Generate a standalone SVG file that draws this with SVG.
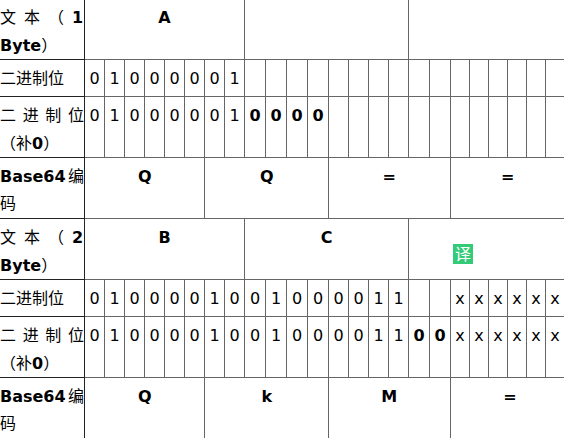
<svg xmlns="http://www.w3.org/2000/svg" width="564" height="438" viewBox="0 0 564 438">
<style>
.g{stroke:#666;stroke-width:1;fill:none;shape-rendering:crispEdges}
.d{stroke:#222;stroke-width:1;fill:none;shape-rendering:crispEdges}
text{font-family:"DejaVu Sans","Noto Sans CJK SC",sans-serif;font-size:16px;fill:#000}
.b{font-weight:700}
.c{text-anchor:middle}
</style>
<rect width="564" height="438" fill="#fff"/>
<g id="grid">
<path class="g" d="M85 59.5H564M85 96.5H564M85 157.5H564M85 218.5H564M85 279.5H564M85 316.5H564M85 377.5H564"/>
<path class="g" d="M244.5 0V59M408.5 0V59M204.5 157V218M328.5 157V218M450.5 157V218M244.5 218V279M408.5 218V279M204.5 377V438M328.5 377V438M450.5 377V438"/>
<path class="g" d="M104.5 59V157M124.5 59V157M144.5 59V157M164.5 59V157M184.5 59V157M204.5 59V157M224.5 59V157M244.5 59V157M265.5 59V157M286.5 59V157M307.5 59V157M328.5 59V157M348.5 59V157M368.5 59V157M388.5 59V157M408.5 59V157M429.5 59V157M450.5 59V157M469.5 59V157M488.5 59V157M507.5 59V157M526.5 59V157M545.5 59V157"/>
<path class="g" d="M104.5 279V377M124.5 279V377M144.5 279V377M164.5 279V377M184.5 279V377M204.5 279V377M224.5 279V377M244.5 279V377M265.5 279V377M286.5 279V377M307.5 279V377M328.5 279V377M348.5 279V377M368.5 279V377M388.5 279V377M408.5 279V377M429.5 279V377M450.5 279V377M469.5 279V377M488.5 279V377M507.5 279V377M526.5 279V377M545.5 279V377"/>
<path class="d" d="M0 59.5H85M0 96.5H85M0 157.5H85M0 218.5H85M0 279.5H85M0 316.5H85M0 377.5H85M84.5 0V438"/>
</g>
<g id="headers">
<text x="0 24 48 72" y="23">文本（<tspan class="b">1</tspan></text>
<text class="b" x="0" y="51">Byte<tspan font-weight="400">）</tspan></text>
<text x="0" y="84">二进制位</text>
<text x="0 22.7 45.3 68" y="120.500">二进制位</text>
<text x="0" y="149">（补<tspan class="b">0</tspan>）</text>
<text x="0" y="181.500"><tspan class="b">Base64</tspan><tspan x="68">编</tspan></text>
<text x="0" y="209">码</text>
<text x="0 24 48 72" y="243">文本（<tspan class="b">2</tspan></text>
<text class="b" x="0" y="271">Byte<tspan font-weight="400">）</tspan></text>
<text x="0" y="304">二进制位</text>
<text x="0 22.7 45.3 68" y="340.500">二进制位</text>
<text x="0" y="369">（补<tspan class="b">0</tspan>）</text>
<text x="0" y="401.500"><tspan class="b">Base64</tspan><tspan x="68">编</tspan></text>
<text x="0" y="429">码</text>
</g>
<g id="row1" class="c">
<text class="b c" x="164.500" y="23">A</text>
<text class="c" x="94.500" y="84">0</text><text class="c" x="114.500" y="84">1</text><text class="c" x="134.500" y="84">0</text><text class="c" x="154.500" y="84">0</text><text class="c" x="174.500" y="84">0</text><text class="c" x="194.500" y="84">0</text><text class="c" x="214.500" y="84">0</text><text class="c" x="234.500" y="84">1</text>
<text class="c" x="94.500" y="120.500">0</text><text class="c" x="114.500" y="120.500">1</text><text class="c" x="134.500" y="120.500">0</text><text class="c" x="154.500" y="120.500">0</text><text class="c" x="174.500" y="120.500">0</text><text class="c" x="194.500" y="120.500">0</text><text class="c" x="214.500" y="120.500">0</text><text class="c" x="234.500" y="120.500">1</text>
<text class="b c" x="255" y="120.500">0</text><text class="b c" x="276" y="120.500">0</text><text class="b c" x="297" y="120.500">0</text><text class="b c" x="318" y="120.500">0</text>
<text class="b c" x="144.700" y="181.500">Q</text><text class="b c" x="266.700" y="181.500">Q</text><text class="b c" x="389.300" y="181.500">=</text><text class="b c" x="507.700" y="181.500">=</text>
</g>
<g id="row2" class="c">
<text class="b c" x="164.500" y="243">B</text><text class="b c" x="326.700" y="243">C</text>
<text class="c" x="94.500" y="304">0</text><text class="c" x="114.500" y="304">1</text><text class="c" x="134.500" y="304">0</text><text class="c" x="154.500" y="304">0</text><text class="c" x="174.500" y="304">0</text><text class="c" x="194.500" y="304">0</text><text class="c" x="214.500" y="304">1</text><text class="c" x="234.500" y="304">0</text><text class="c" x="255" y="304">0</text><text class="c" x="276" y="304">1</text><text class="c" x="297" y="304">0</text><text class="c" x="318" y="304">0</text><text class="c" x="338.500" y="304">0</text><text class="c" x="358.500" y="304">0</text><text class="c" x="378.500" y="304">1</text><text class="c" x="398.500" y="304">1</text>
<text class="c" x="460" y="304">x</text><text class="c" x="479" y="304">x</text><text class="c" x="498" y="304">x</text><text class="c" x="517" y="304">x</text><text class="c" x="536" y="304">x</text><text class="c" x="555" y="304">x</text>
<text class="c" x="94.500" y="340.500">0</text><text class="c" x="114.500" y="340.500">1</text><text class="c" x="134.500" y="340.500">0</text><text class="c" x="154.500" y="340.500">0</text><text class="c" x="174.500" y="340.500">0</text><text class="c" x="194.500" y="340.500">0</text><text class="c" x="214.500" y="340.500">1</text><text class="c" x="234.500" y="340.500">0</text><text class="c" x="255" y="340.500">0</text><text class="c" x="276" y="340.500">1</text><text class="c" x="297" y="340.500">0</text><text class="c" x="318" y="340.500">0</text><text class="c" x="338.500" y="340.500">0</text><text class="c" x="358.500" y="340.500">0</text><text class="c" x="378.500" y="340.500">1</text><text class="c" x="398.500" y="340.500">1</text>
<text class="b c" x="419" y="340.500">0</text><text class="b c" x="440" y="340.500">0</text>
<text class="c" x="460" y="340.500">x</text><text class="c" x="479" y="340.500">x</text><text class="c" x="498" y="340.500">x</text><text class="c" x="517" y="340.500">x</text><text class="c" x="536" y="340.500">x</text><text class="c" x="555" y="340.500">x</text>
<text class="b c" x="144.700" y="401.500">Q</text><text class="b c" x="266.700" y="401.500">k</text><text class="b c" x="389.300" y="401.500">M</text><text class="b c" x="510" y="401.500">=</text>
</g>
<g id="badge">
<rect x="453" y="244" width="20" height="20" fill="#34cb78"/>
<text class="c" x="463" y="260" style="fill:#fff">译</text>
</g>
</svg>
